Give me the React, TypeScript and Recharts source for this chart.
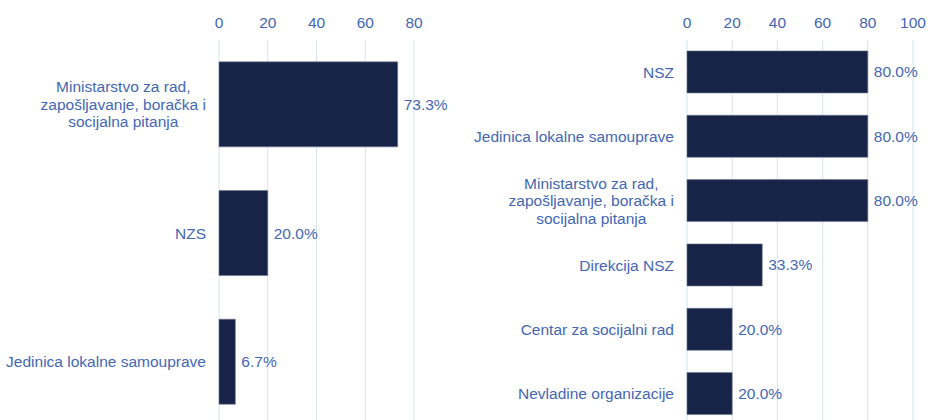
import React from 'react';
import { BarChart, Bar, XAxis, YAxis, CartesianGrid, LabelList } from 'recharts';

const LEFT_NAMES = [
  'Ministarstvo za rad,\nzapošljavanje, boračka i\nsocijalna pitanja',
  'NZS',
  'Jedinica lokalne samouprave',
];
const LEFT_VALUES = [73.3, 20.0, 6.7];
const LEFT_TICKS = [0, 20, 40, 60, 80];

const RIGHT_NAMES = [
  'NSZ',
  'Jedinica lokalne samouprave',
  'Ministarstvo za rad,\nzapošljavanje, boračka i\nsocijalna pitanja',
  'Direkcija NSZ',
  'Centar za socijalni rad',
  'Nevladine organizacije',
];
const RIGHT_VALUES = [80.0, 80.0, 80.0, 33.3, 20.0, 20.0];
const RIGHT_TICKS = [0, 20, 40, 60, 80, 100];

const TEXT = '#4467b4';
const BAR = '#172347';
const GRID = '#d9e1f1';
const FONT = '"Liberation Sans", Arial, sans-serif';
const FS = 15.5;

let ctx: CanvasRenderingContext2D | null = null;
function textWidth(s: string) {
  if (!ctx) ctx = document.createElement('canvas').getContext('2d');
  if (!ctx) return s.length * 8;
  ctx.font = `${FS}px ${FONT}`;
  return ctx.measureText(s).width;
}

function CatTick(props: any) {
  const { x, y, payload } = props;
  const lines = String(payload.value).split('\n');
  if (lines.length === 1) {
    return (
      <text x={x} y={y} textAnchor="end" dominantBaseline="central" fill={TEXT} fontSize={FS} fontFamily={FONT}>
        {lines[0]}
      </text>
    );
  }
  const w = Math.max(...lines.map(textWidth));
  const lh = 17.5;
  const cx = x - w / 2;
  return (
    <text x={cx} y={y} textAnchor="middle" fill={TEXT} fontSize={FS} fontFamily={FONT}>
      {lines.map((l, i) => (
        <tspan key={i} x={cx} y={y + (i - (lines.length - 1) / 2) * lh} dominantBaseline="central">
          {l}
        </tspan>
      ))}
    </text>
  );
}

const fmt = (v: any) => `${Number(v).toFixed(1)}%`;

function Panel({ names, values, ticks, width, yWidth, right }: any) {
  const data = names.map((n: string, i: number) => ({ name: n, value: values[i] }));
  return (
    <BarChart
      width={width}
      height={430}
      data={data}
      layout="vertical"
      margin={{ top: 0, right, bottom: 4, left: 0 }}
      barCategoryGap="17%"
    >
      <CartesianGrid horizontal={false} stroke={GRID} strokeWidth={1} />
      <XAxis
        type="number"
        orientation="top"
        domain={[ticks[0], ticks[ticks.length - 1]]}
        ticks={ticks}
        height={40}
        axisLine={false}
        tickLine={false}
        tickSize={0}
        tickMargin={12}
        tick={{ fill: TEXT, fontSize: FS, fontFamily: FONT }}
      />
      <YAxis
        type="category"
        dataKey="name"
        width={yWidth}
        axisLine={false}
        tickLine={false}
        tickSize={0}
        tickMargin={13}
        interval={0}
        tick={<CatTick />}
      />
      <Bar dataKey="value" fill={BAR} stroke="#6d7890" strokeWidth={0.6} isAnimationActive={false}>
        <LabelList
          dataKey="value"
          position="right"
          offset={6}
          formatter={fmt}
          fill={TEXT}
          fontSize={FS}
          fontFamily={FONT}
        />
      </Bar>
    </BarChart>
  );
}

export default function App() {
  return (
    <div style={{ position: 'fixed', left: 0, top: 0, width: 929, height: 420, overflow: 'hidden', background: '#fff', fontFamily: FONT }}>
      <div style={{ position: 'absolute', left: 0, top: 0 }}>
        <Panel names={LEFT_NAMES} values={LEFT_VALUES} ticks={LEFT_TICKS} width={460} yWidth={219} right={46} />
      </div>
      <div style={{ position: 'absolute', left: 460, top: 0 }}>
        <Panel names={RIGHT_NAMES} values={RIGHT_VALUES} ticks={RIGHT_TICKS} width={469} yWidth={227} right={16} />
      </div>
    </div>
  );
}
